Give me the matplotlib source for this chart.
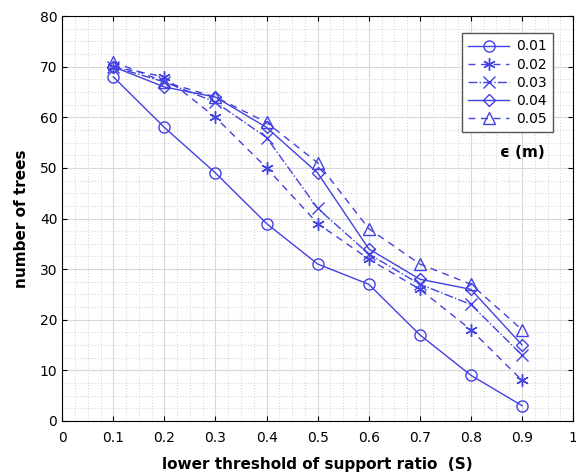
import numpy as np
import matplotlib.pyplot as plt
from matplotlib.ticker import MultipleLocator

support = [0.1, 0.2, 0.3, 0.4, 0.5, 0.6, 0.7, 0.8, 0.9]
trees_001 = [68, 58, 49, 39, 31, 27, 17, 9, 3]
trees_002 = [70, 68, 60, 50, 39, 32, 26, 18, 8]
trees_003 = [70, 67, 63, 56, 42, 33, 27, 23, 13]
trees_004 = [70, 66, 64, 58, 49, 34, 28, 26, 15]
trees_005 = [71, 67, 64, 59, 51, 38, 31, 27, 18]
labels = ["0.01", "0.02", "0.03", "0.04", "0.05"]
x_ticks = [0, 0.1, 0.2, 0.3, 0.4, 0.5, 0.6, 0.7, 0.8, 0.9, 1]
x_ticklabels = ["0", "0.1", "0.2", "0.3", "0.4", "0.5", "0.6", "0.7", "0.8", "0.9", "1"]

blue = "#4242e0"
fig = plt.figure(figsize=(5.76, 4.75), dpi=100)
ax = fig.add_axes([0.108, 0.114, 0.887, 0.852])

series = [trees_001, trees_002, trees_003, trees_004, trees_005]
styles = [("-", "o", 8), ((0, (5, 4)), (6, 2, 0), 9), ("-.", "x", 8),
          ("-", "D", 6.5), ((0, (5, 4)), "^", 8)]
for vals, lab, (ls, mk, ms) in zip(series, labels, styles):
    ax.plot(support, vals, linestyle=ls, marker=mk, markersize=ms, color=blue,
            markerfacecolor="none", linewidth=1.0, markeredgewidth=1.0, label=lab)

ax.set_xlim(0, 1)
ax.set_ylim(0, 80)
ax.set_xticks(x_ticks)
ax.set_xticklabels(x_ticklabels)
ax.xaxis.set_minor_locator(MultipleLocator(0.025))
ax.yaxis.set_major_locator(MultipleLocator(10))
ax.yaxis.set_minor_locator(MultipleLocator(2.5))
ax.grid(which="major", color="#d8d8d8", linewidth=0.8)
ax.grid(which="minor", color="#d8d8d8", linestyle=":", linewidth=0.8)
ax.tick_params(which="both", direction="in", top=True, right=True, labelsize=10)
ax.tick_params(axis="x", pad=7)
ax.tick_params(which="minor", length=0)
ax.set_xlabel("lower threshold of support ratio  (S)", fontsize=11, fontweight="bold",
              labelpad=9)
ax.set_ylabel("number of trees", fontsize=11, fontweight="bold", labelpad=8)

leg = ax.legend(loc="upper right", bbox_to_anchor=(0.975, 0.975), fontsize=10,
                handlelength=3.0, fancybox=False, edgecolor="#555555", framealpha=1,
                borderpad=0.45, labelspacing=0.3, handletextpad=0.5)
leg.get_frame().set_linewidth(1.0)
ax.text(0.90, 0.664, "ϵ (m)", transform=ax.transAxes, fontsize=11, fontweight="bold",
        ha="center", va="center")

fig.savefig("out.png", dpi=100)
